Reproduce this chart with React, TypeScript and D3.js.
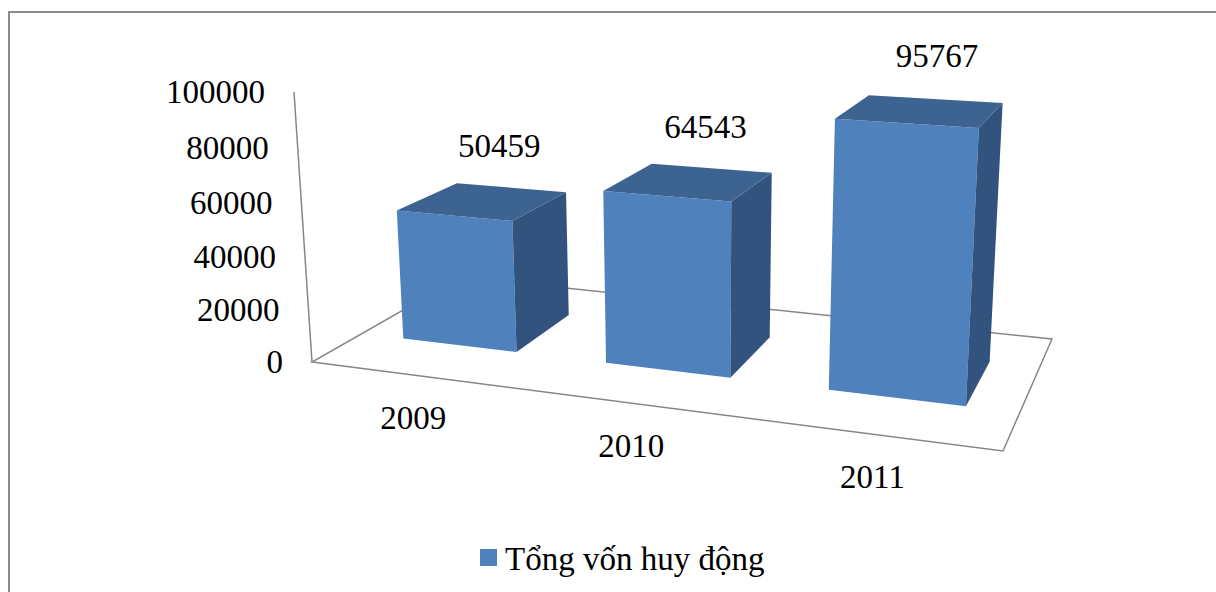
import React from 'react';
import * as d3 from 'd3';

// ---- data ----
const categories = ['2009', '2010', '2011'];
const values = [50459, 64543, 95767];
const yTicks = [0, 20000, 40000, 60000, 80000, 100000];
const seriesName = 'Tổng vốn huy động';

// ---- layout (3D plot frame) ----
const W = 1216;
const H = 592;
// floor corners on screen: front-left, front-right, back-right, back-left
const FL = [312, 362];
const FR = [1003, 451];
const BR = [1052, 339];
const BL = [461, 277];
const AXIS_TOP = [294, 92]; // projection of front-left corner at max value
const V_PERSP = -0.0445; // vertical perspective
const DEPTH_RANGE = [0.3, 0.71];

const FONT = '"Liberation Serif", "Times New Roman", serif';
const FRONT = '#4F81BD';
const TOP = '#3D6391';
const SIDE = '#31537E';
const GRID = '#868686';

function squareToQuad() {
  const [x0, y0] = FL, [x1, y1] = FR, [x2, y2] = BR, [x3, y3] = BL;
  const dx1 = x1 - x2, dy1 = y1 - y2;
  const dx2 = x3 - x2, dy2 = y3 - y2;
  const dx3 = x0 - x1 + x2 - x3, dy3 = y0 - y1 + y2 - y3;
  const den = dx1 * dy2 - dx2 * dy1;
  const g = (dx3 * dy2 - dx2 * dy3) / den;
  const h = (dx1 * dy3 - dx3 * dy1) / den;
  return {
    a: x1 - x0 + g * x1, b: x3 - x0 + h * x3, c: x0,
    d: y1 - y0 + g * y1, e: y3 - y0 + h * y3, f: y0,
    g, h,
  };
}

const M = squareToQuad();
const vx = AXIS_TOP[0] * (1 + V_PERSP) - FL[0];
const vy = AXIS_TOP[1] * (1 + V_PERSP) - FL[1];
const vz = V_PERSP;

function project(u: number, w: number, t: number): [number, number] {
  const X = M.a * u + M.b * w + M.c + vx * t;
  const Y = M.d * u + M.e * w + M.f + vy * t;
  const Z = M.g * u + M.h * w + 1 + vz * t;
  return [X / Z, Y / Z];
}

const xScale = d3.scaleBand<string>().domain(categories).range([0, 1]).paddingInner(0.43).paddingOuter(0.215);
const yScale = d3.scaleLinear().domain([0, 100000]).range([0, 1]);

const poly = (pts: [number, number][]) => d3.line()(pts) + 'Z';

export default function App() {
  const bars = categories.map((cat, i) => {
    const u0 = xScale(cat)!;
    const u1 = u0 + xScale.bandwidth();
    const [w0, w1] = DEPTH_RANGE;
    const t = yScale(values[i]);
    const front = poly([project(u0, w0, 0), project(u1, w0, 0), project(u1, w0, t), project(u0, w0, t)]);
    const side = poly([project(u1, w0, 0), project(u1, w1, 0), project(u1, w1, t), project(u1, w0, t)]);
    const top = poly([project(u0, w0, t), project(u1, w0, t), project(u1, w1, t), project(u0, w1, t)]);
    const lab = project((u0 + u1) / 2, (w0 + w1) / 2, t);
    return { cat, front, side, top, lab, v: values[i] };
  });

  const floorPath = poly([project(0, 0, 0), project(1, 0, 0), project(1, 1, 0), project(0, 1, 0)]);
  const axisLine = d3.line()([project(0, 0, 0), project(0, 0, 1)]);

  return (
    <svg width={W} height={H} style={{ position: 'absolute', left: 0, top: 0, background: '#fff' }}>
      <rect x={9} y={12} width={1400} height={800} fill="#fff" stroke="#8c8c8c" strokeWidth={2} />
      <path d={floorPath!} fill="none" stroke={GRID} strokeWidth={1.5} />
      <path d={axisLine!} fill="none" stroke={GRID} strokeWidth={1.5} />
      {yTicks.map((tk) => {
        const [ax, ay] = project(0, 0, yScale(tk));
        return (
          <text key={tk} x={ax - 29} y={ay} textAnchor="end" dominantBaseline="central"
            fontFamily={FONT} fontSize={33} fill="#000">{tk}</text>
        );
      })}
      {categories.map((cat) => {
        const u = xScale(cat)! + xScale.bandwidth() / 2;
        const [px, py] = project(u, 0, 0);
        return (
          <text key={cat} x={px} y={py + 43} textAnchor="middle" dominantBaseline="central"
            fontFamily={FONT} fontSize={33} fill="#000">{cat}</text>
        );
      })}
      {bars.map((b) => (
        <g key={b.cat}>
          <path d={b.front} fill={FRONT} />
          <path d={b.side} fill={SIDE} />
          <path d={b.top} fill={TOP} />
        </g>
      ))}
      {bars.map((b) => (
        <text key={'l' + b.cat} x={b.lab[0] + 16} y={b.lab[1] - 55} textAnchor="middle" dominantBaseline="central"
          fontFamily={FONT} fontSize={33} fill="#000">{b.v}</text>
      ))}
      <rect x={480} y={549} width={17} height={17} fill={FRONT} />
      <text x={505} y={570} fontFamily={FONT} fontSize={33} fill="#000">{seriesName}</text>
    </svg>
  );
}
